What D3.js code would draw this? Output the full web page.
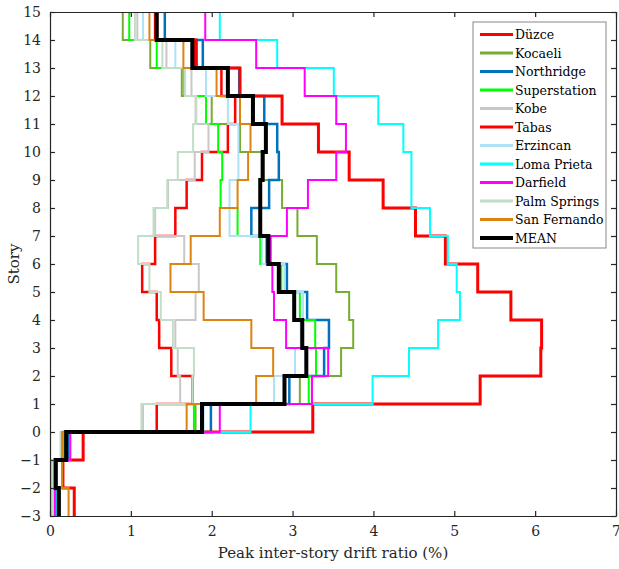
<!DOCTYPE html>
<html>
<head>
<meta charset="utf-8">
<script src="https://cdn.jsdelivr.net/npm/d3@7"></script>
</head>
<body style="margin:0">
<svg id="chart" width="619" height="569"></svg>
<script>
// story intervals: lower edge of each interval, -3 .. 14
var stories = d3.range(-3, 15);

var duzce       = [0.10, 0.08, 0.17, 1.32, 1.76, 1.50, 1.35, 1.32, 1.14, 1.30, 1.55, 1.69, 1.88, 2.20, 2.29, 2.12, 1.78, 1.30];
var kocaeli     = [0.03, 0.03, 0.14, 1.80, 3.09, 3.60, 3.75, 3.70, 3.54, 3.30, 3.06, 2.87, 2.64, 2.35, 2.00, 1.63, 1.24, 0.90];
var northridge  = [0.08, 0.05, 0.22, 1.99, 2.96, 3.39, 3.45, 3.18, 2.93, 2.68, 2.49, 2.71, 2.83, 2.81, 2.65, 2.34, 1.89, 1.42];
var superstation= [0.05, 0.05, 0.17, 1.78, 3.20, 3.29, 3.28, 3.09, 2.86, 2.60, 2.32, 2.11, 2.13, 2.08, 1.93, 1.66, 1.32, 0.98];
var kobe        = [0.05, 0.05, 0.15, 1.15, 1.61, 1.58, 1.55, 1.80, 1.84, 1.66, 1.30, 1.46, 1.79, 1.96, 1.80, 1.75, 1.44, 1.08];
var tabas       = [0.30, 0.16, 0.41, 3.25, 5.32, 6.07, 6.08, 5.70, 5.29, 4.89, 4.52, 4.12, 3.70, 3.32, 2.87, 2.35, 1.81, 1.32];
var erzincan    = [0.05, 0.05, 0.20, 1.90, 2.77, 3.03, 3.10, 3.13, 2.90, 2.62, 2.22, 2.22, 2.33, 2.33, 2.20, 1.93, 1.55, 1.15];
var lomaPrieta  = [0.07, 0.06, 0.25, 2.48, 3.99, 4.44, 4.80, 5.07, 5.03, 4.92, 4.70, 4.47, 4.47, 4.37, 4.06, 3.51, 2.81, 2.10];
var darfield    = [0.06, 0.06, 0.25, 2.10, 3.24, 3.44, 2.92, 2.77, 2.75, 2.73, 2.93, 3.19, 3.54, 3.66, 3.54, 3.15, 2.55, 1.92];
var palmSprings = [0.03, 0.03, 0.13, 1.13, 1.76, 1.78, 1.52, 1.37, 1.23, 1.09, 1.28, 1.45, 1.58, 1.77, 1.81, 1.67, 1.39, 1.05];
var sanFernando = [0.23, 0.15, 0.15, 1.69, 2.55, 2.76, 2.49, 1.90, 1.49, 1.74, 2.10, 2.32, 2.45, 2.48, 2.35, 2.06, 1.65, 1.23];
var mean        = [0.11, 0.07, 0.20, 1.88, 2.90, 3.17, 3.12, 3.02, 2.83, 2.70, 2.60, 2.60, 2.63, 2.67, 2.51, 2.20, 1.76, 1.32];

var names  = ["Düzce", "Kocaeli", "Northridge", "Superstation", "Kobe", "Tabas", "Erzincan",
              "Loma Prieta", "Darfield", "Palm Springs", "San Fernando", "MEAN"];
var values = [duzce, kocaeli, northridge, superstation, kobe, tabas, erzincan,
              lomaPrieta, darfield, palmSprings, sanFernando, mean];
var colors = ["#ff0000", "#77ac30", "#0072bd", "#00ff00", "#c8c8c8", "#ff0000", "#ade2f7",
              "#00ffff", "#ff00ff", "#c2dec6", "#dc8410", "#000000"];
var widths = [2.5, 2, 2.5, 2, 2, 3, 2, 2, 2, 2, 2, 4];

var xTicks = d3.range(0, 8);
var yTicks = d3.range(-3, 16);

var serif = "'DejaVu Serif', serif";

var margin = {left: 50, top: 12, right: 3, bottom: 53};
var W = 619, H = 569;
var svg = d3.select("#chart");

var x = d3.scaleLinear().domain([0, 7]).range([margin.left, W - margin.right]);
var y = d3.scaleLinear().domain([-3, 15]).range([H - margin.bottom, margin.top]);

// stair lines
var line = d3.line().x(function(d) { return x(d[0]); }).y(function(d) { return y(d[1]); });

function stairPoints(vals) {
  var pts = [];
  for (var i = 0; i < vals.length; i++) {
    pts.push([vals[i], stories[i]]);
    pts.push([vals[i], stories[i] + 1]);
  }
  return pts;
}

var plot = svg.append("g");
values.forEach(function(vals, i) {
  plot.append("path")
    .attr("d", line(stairPoints(vals)))
    .attr("fill", "none")
    .attr("stroke", colors[i])
    .attr("stroke-width", widths[i]);
});

// axes (ticks inside, box on)
var fmt = d3.format("d");
var xAxis = svg.append("g").attr("transform", "translate(0," + y(-3) + ")")
  .call(d3.axisBottom(x).tickValues(xTicks).tickFormat(fmt).tickSizeInner(-5).tickSizeOuter(0).tickPadding(10));
var xTop = svg.append("g").attr("transform", "translate(0," + y(15) + ")")
  .call(d3.axisTop(x).tickValues(xTicks).tickSizeInner(-5).tickSizeOuter(0).tickFormat(""));
var yAxis = svg.append("g").attr("transform", "translate(" + x(0) + ",0)")
  .call(d3.axisLeft(y).tickValues(yTicks).tickFormat(fmt).tickSizeInner(-5).tickSizeOuter(0).tickPadding(9));
var yRight = svg.append("g").attr("transform", "translate(" + x(7) + ",0)")
  .call(d3.axisRight(y).tickValues(yTicks).tickSizeInner(-5).tickSizeOuter(0).tickFormat(""));

[xAxis, xTop, yAxis, yRight].forEach(function(g) {
  g.attr("font-family", null).attr("font-size", null);
  g.selectAll("path").attr("stroke", "#262626").attr("stroke-width", 1.2);
  g.selectAll("line").attr("stroke", "#262626").attr("stroke-width", 1.2);
  g.selectAll("text").attr("fill", null)
    .attr("style", "font-family: " + serif + "; font-size: 14px; fill: #262626");
});

// labels
svg.append("text")
  .attr("x", (x(0) + x(7)) / 2).attr("y", 558)
  .attr("text-anchor", "middle")
  .attr("style", "font-family: " + serif + "; font-size: 15px; fill: #262626")
  .text("Peak inter-story drift ratio (%)");

svg.append("text")
  .attr("transform", "translate(19," + y(6) + ") rotate(-90)")
  .attr("text-anchor", "middle")
  .attr("style", "font-family: " + serif + "; font-size: 15px; fill: #262626")
  .text("Story");

// legend
var legend = svg.append("g").attr("transform", "translate(473,22)");
legend.append("rect")
  .attr("width", 133).attr("height", 226)
  .attr("fill", "#fff").attr("stroke", "#888").attr("stroke-width", 1);

names.forEach(function(name, i) {
  var ly = 12.5 + i * 18.5;
  legend.append("line")
    .attr("x1", 7).attr("x2", 40).attr("y1", ly).attr("y2", ly)
    .attr("stroke", colors[i]).attr("stroke-width", i == 11 ? 4 : 3);
  legend.append("text")
    .attr("x", 42).attr("y", ly + 4.5)
    .attr("style", "font-family: " + serif + "; font-size: 12.5px; fill: #000")
    .text(name);
});
</script>
</body>
</html>
